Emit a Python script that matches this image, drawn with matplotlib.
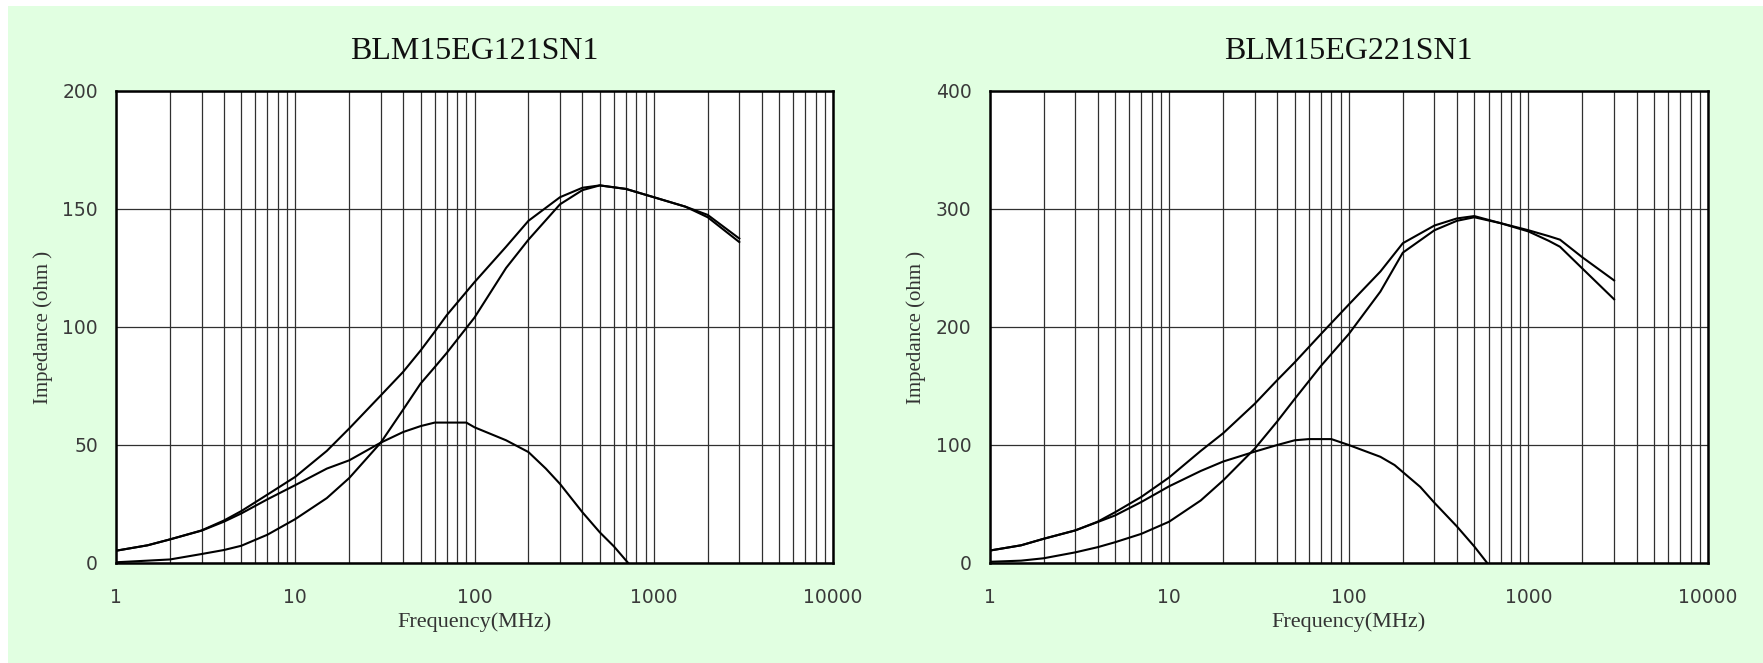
import numpy as np
import matplotlib
matplotlib.use('Agg')
import matplotlib.pyplot as plt
from matplotlib.patches import Rectangle
from matplotlib.ticker import LogLocator, FixedLocator, NullFormatter

# BLM15EG121SN1
freq1 = [1, 1.5, 2, 3, 4, 5, 7, 10, 15, 20, 30, 40, 50, 60, 70, 100, 150, 200, 300, 400, 500, 700, 1000, 1500, 2000, 3000]
z1 = [5.2, 7.5, 10, 13.8, 18, 22, 29, 36.5, 47.5, 57, 71, 81, 90, 98, 105, 119, 134, 145, 155, 159, 160, 158.5, 155, 151, 147.5, 137.5]
r1 = [0.3, 1, 1.5, 3.8, 5.5, 7.3, 12, 18.6, 27.5, 36, 51, 65, 76, 83, 89, 104, 125, 137, 152, 158, 160, 158.5, 155, 151, 146.5, 136]
freq1_x = [1, 1.5, 2, 3, 4, 5, 7, 10, 15, 20, 30, 40, 50, 60, 90, 100, 150, 200, 250, 300, 400, 500, 600, 720]
x1 = [5.2, 7.5, 10, 13.7, 17.5, 21, 27, 33, 40, 43.5, 51, 55.5, 58, 59.5, 59.5, 57.5, 52, 47, 40, 33.5, 21.5, 13, 7, 0]

# BLM15EG221SN1
freq2 = [1, 1.5, 2, 3, 4, 5, 7, 10, 15, 20, 30, 40, 50, 70, 100, 150, 200, 300, 400, 500, 700, 1000, 1300, 1500, 2000, 3000]
z2 = [10.5, 15, 20.5, 27.6, 35, 43, 56, 72.5, 95, 110, 135, 155, 170, 194, 219, 247, 271, 286, 292, 294, 288, 282, 277, 274, 259, 239.5]
r2 = [1, 2, 4, 9, 13.4, 17.6, 24.7, 35, 53, 70, 97, 120, 139, 167, 194, 230, 263, 282, 290, 293, 288, 281, 273, 268, 249.5, 223.5]
freq2_x = [1, 1.5, 2, 3, 4, 5, 7, 10, 15, 20, 30, 40, 50, 60, 80, 100, 150, 180, 250, 300, 400, 500, 590]
x2 = [10.5, 15, 20.5, 27.6, 34.7, 40.3, 51.7, 65, 78, 86, 94.4, 100, 104, 105, 105, 100, 90, 83, 64.5, 51, 31, 14, 0]

titles = ['BLM15EG121SN1', 'BLM15EG221SN1']
y_ticks = [[0, 50, 100, 150, 200], [0, 100, 200, 300, 400]]
x_ticks = [1, 10, 100, 1000, 10000]
x_tick_labels = ['1', '10', '100', '1000', '10000']

W, H = 1763, 663
fig = plt.figure(figsize=(W / 100, H / 100), dpi=100)
fig.patch.set_facecolor('white')
fig.add_artist(Rectangle((8 / W, 0), 1 - 8 / W, 1 - 6 / H, transform=fig.transFigure,
                         facecolor='#e1ffe1', edgecolor='none', zorder=-10))

ax1 = fig.add_axes([116 / W, 100 / H, 717 / W, 472 / H])
ax2 = fig.add_axes([989.5 / W, 100 / H, 718.5 / W, 472 / H])

data = [(freq1, z1, r1, freq1_x, x1), (freq2, z2, r2, freq2_x, x2)]

for i, ax in enumerate([ax1, ax2]):
    f, z, r, fx, xx = data[i]
    ax.set_facecolor('white')
    ax.plot(f, z, color='black', lw=1.5)
    ax.plot(f, r, color='black', lw=1.5)
    ax.plot(fx, xx, color='black', lw=1.5)

    ax.set_xscale('log')
    ax.set_xlim(1, 10000)
    ax.set_ylim(y_ticks[i][0], y_ticks[i][-1])
    ax.xaxis.set_major_locator(FixedLocator(x_ticks))
    ax.set_xticklabels(x_tick_labels)
    ax.xaxis.set_minor_locator(LogLocator(base=10, subs=np.arange(2, 10)))
    ax.xaxis.set_minor_formatter(NullFormatter())
    ax.set_yticks(y_ticks[i])

    ax.grid(True, which='both', axis='x', color='#303030', lw=0.9)
    ax.grid(True, which='major', axis='y', color='#303030', lw=0.9)
    ax.set_axisbelow(True)
    ax.tick_params(which='both', length=0)
    ax.tick_params(axis='y', pad=13, labelsize=13.5, labelcolor='#3a3a3a')
    ax.tick_params(axis='x', pad=18, labelsize=13.5, labelcolor='#3a3a3a')
    for s in ax.spines.values():
        s.set_linewidth(1.8)
        s.set_color('black')

    ax.set_title(titles[i], fontfamily='Liberation Serif', fontsize=23, pad=23, color='#111111')
    ax.set_xlabel('Frequency(MHz)', fontfamily='Liberation Serif', fontsize=16, color='#333333', labelpad=4)
    ax.set_ylabel('Impedance (ohm )', fontfamily='Liberation Serif', fontsize=15, color='#333333', labelpad=7)

plt.savefig('out.png', dpi=100, facecolor=fig.get_facecolor())
